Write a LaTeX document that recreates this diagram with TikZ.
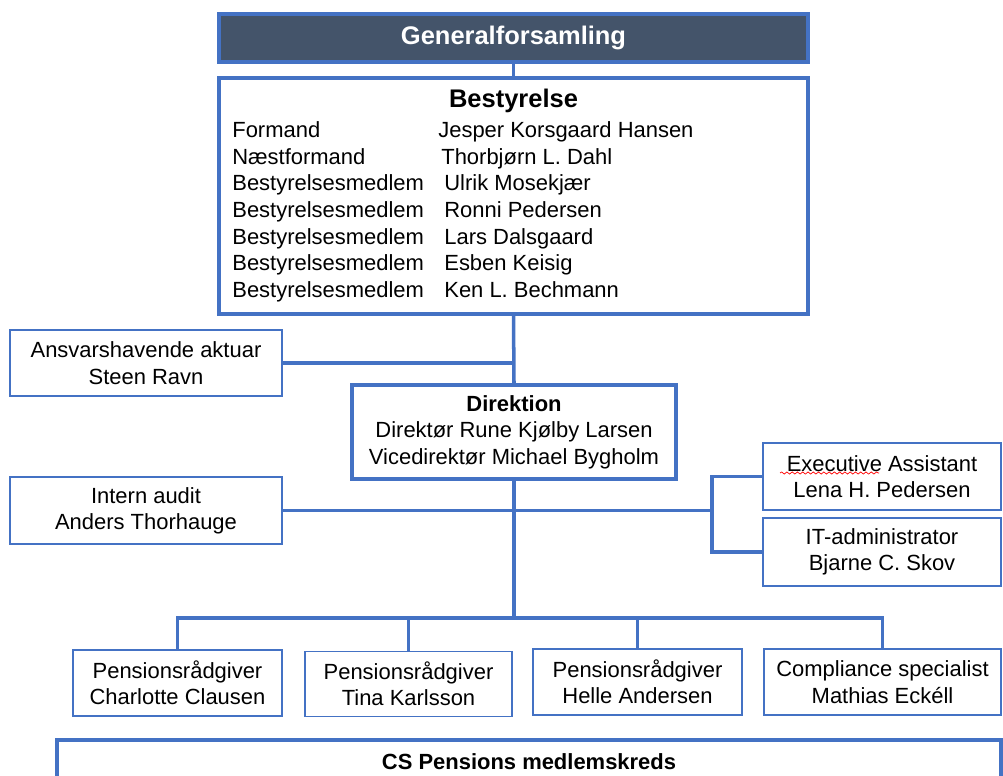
\documentclass[tikz,border=0pt]{standalone}
\usepackage{fontspec}
\setmainfont{Liberation Sans}
\usepackage{tikz}
\usetikzlibrary{decorations.pathmorphing}

\definecolor{orgblaa}{HTML}{4472C4}
\definecolor{moerk}{HTML}{44546A}

\tikzset{
  boks/.style={draw=orgblaa, line width=0.85pt, fill=white, inner sep=0pt, align=center,
    font=\fontsize{12.5}{15}\selectfont},
  storboks/.style={boks, line width=2.1pt},
  tekst/.style={anchor=base west, inner sep=0pt, font=\fontsize{12.5}{15}\selectfont},
  linje/.style={draw=orgblaa, line width=2pt}
}

\begin{document}
\begin{tikzpicture}[x=0.02cm, y=-0.02cm]
\useasboundingbox (0,0) rectangle (1003,776);
\clip (0,0) rectangle (1003,776);

\node[storboks, fill=moerk, text=white, font=\fontsize{14.5}{17}\selectfont\bfseries,
  minimum width=11.78cm, minimum height=0.96cm] (gen) at (513.5,38) {Generalforsamling};
\node[storboks, minimum width=11.78cm, minimum height=4.72cm] (best) at (513.5,196) {};
\node[inner sep=0pt, font=\fontsize{14.5}{17}\selectfont\bfseries] (besttitel) at (513.5,101) {Bestyrelse};

\node[tekst] (r1a) at (232,138) {Formand};
\node[tekst] (r1b) at (438,138) {Jesper Korsgaard Hansen};
\node[tekst] (r2a) at (232,165) {Næstformand};
\node[tekst] (r2b) at (441,165) {Thorbjørn L. Dahl};
\node[tekst] (r3a) at (232,191) {Bestyrelsesmedlem};
\node[tekst] (r3b) at (444,191) {Ulrik Mosekjær};
\node[tekst] (r4a) at (232,218) {Bestyrelsesmedlem};
\node[tekst] (r4b) at (444,218) {Ronni Pedersen};
\node[tekst] (r5a) at (232,245) {Bestyrelsesmedlem};
\node[tekst] (r5b) at (444,245) {Lars Dalsgaard};
\node[tekst] (r6a) at (232,271) {Bestyrelsesmedlem};
\node[tekst] (r6b) at (444,271) {Esben Keisig};
\node[tekst] (r7a) at (232,298) {Bestyrelsesmedlem};
\node[tekst] (r7b) at (444,298) {Ken L. Bechmann};

\node[boks, minimum width=5.44cm, minimum height=1.32cm] (aktuar) at (146,363) {Ansvarshavende aktuar\\Steen Ravn};
\node[storboks, minimum width=6.48cm, minimum height=1.88cm] (dir) at (514,432)
  {\textbf{Direktion}\\Direktør Rune Kjølby Larsen\\Vicedirektør Michael Bygholm};
\node[boks, minimum width=5.44cm, minimum height=1.34cm] (audit) at (146,510.5) {Intern audit\\Anders Thorhauge};
\node[boks, minimum width=4.76cm, minimum height=1.34cm] (exec) at (882,476.5) {Executive Assistant\\Lena H. Pedersen};
\node[boks, minimum width=4.76cm, minimum height=1.36cm] (it) at (882,552) {IT-administrator\\Bjarne C. Skov};

\node[boks, minimum width=4.18cm, minimum height=1.32cm] (p1) at (177.5,683) {Pensionsrådgiver\\Charlotte Clausen};
\node[boks, minimum width=4.14cm, minimum height=1.30cm] (p2) at (408.5,684) {Pensionsrådgiver\\Tina Karlsson};
\node[boks, minimum width=4.18cm, minimum height=1.32cm] (p3) at (637.5,682) {Pensionsrådgiver\\Helle Andersen};
\node[boks, minimum width=4.74cm, minimum height=1.32cm] (p4) at (882.5,682) {Compliance specialist\\Mathias Eckéll};

\node[storboks, minimum width=18.88cm, minimum height=0.88cm, font=\fontsize{12.5}{15}\selectfont\bfseries]
  (cs) at (529,762) {CS Pensions medlemskreds};

% forbindelser
\coordinate (samle) at (514,618);
\coordinate (klamme) at (712,511);
\draw[linje] (gen.south) -- (best.north);
\draw[linje] (best.south) -- (dir.north);
\draw[linje] (aktuar.east) -- (aktuar.east -| dir.north);
\draw[linje] (dir.south) -- (samle);
\draw[linje] (audit.east) -- (audit.east -| klamme);
\draw[linje] (exec.west) -| (klamme) |- (it.west);
\draw[linje] (p1.north) |- (samle) -| (p4.north);
\draw[linje] (p2.north) -- (p2.north |- samle);
\draw[linje] (p3.north) -- (p3.north |- samle);

% stavekontrol
\draw[red, line width=0.4pt, decorate, decoration={snake, amplitude=0.6pt, segment length=3pt}] (780,473) -- (879,473);
\end{tikzpicture}
\end{document}
